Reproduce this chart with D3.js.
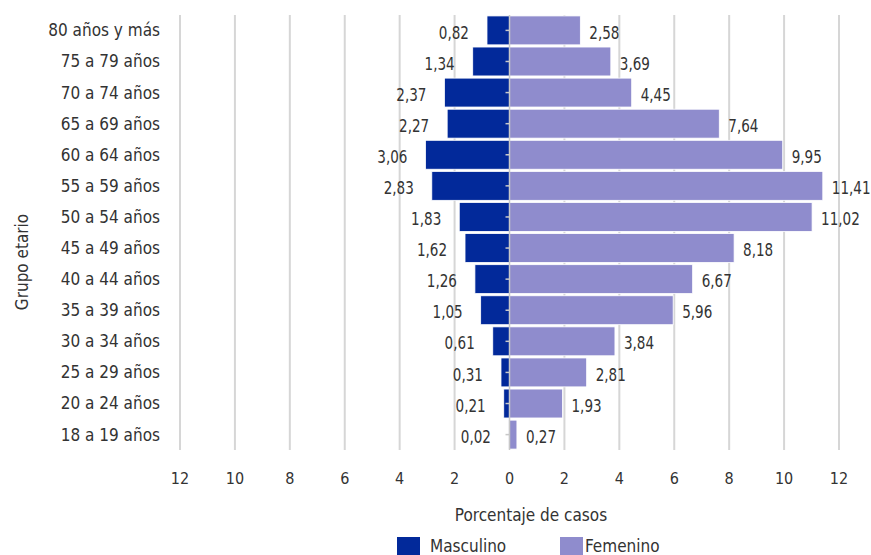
<!DOCTYPE html>
<html>
<head>
<meta charset="utf-8">
<script src="https://cdn.jsdelivr.net/npm/d3@7"></script>
<style>
  html, body { margin: 0; padding: 0; background: #fff; }
  svg { display: block; font-family: "Liberation Sans Narrow", "DejaVu Sans Condensed", "Roboto", sans-serif; }
</style>
</head>
<body>
<svg id="chart" width="871" height="555"></svg>
<script>
// Age groups, top to bottom
const groups = [
  "80 años y más", "75 a 79 años", "70 a 74 años", "65 a 69 años",
  "60 a 64 años", "55 a 59 años", "50 a 54 años", "45 a 49 años",
  "40 a 44 años", "35 a 39 años", "30 a 34 años", "25 a 29 años",
  "20 a 24 años", "18 a 19 años"
];
// Share of cases (%) by sex
const masculino = [0.82, 1.34, 2.37, 2.27, 3.06, 2.83, 1.83, 1.62, 1.26, 1.05, 0.61, 0.31, 0.21, 0.02];
const femenino  = [2.58, 3.69, 4.45, 7.64, 9.95, 11.41, 11.02, 8.18, 6.67, 5.96, 3.84, 2.81, 1.93, 0.27];
// Axis ticks (males to the left, females to the right)
const ticks = [-12, -10, -8, -6, -4, -2, 0, 2, 4, 6, 8, 10, 12];

const colMasc = "#02299a";
const colFem = "#8f8ccd";
const fmt = v => d3.format(".2f")(v).replace(".", ",");

const svg = d3.select("#chart");
const x = d3.scaleLinear().domain([-12, 12]).range([180, 839]);
const y = d3.scaleBand().domain(groups).range([15, 450]).paddingInner(0.07).paddingOuter(0.03);
const mid = g => y(g) + y.bandwidth() / 2;

// Vertical gridlines
svg.append("g").selectAll("line").data(ticks.filter(t => t !== 0)).join("line")
  .attr("x1", d => x(d)).attr("x2", d => x(d))
  .attr("y1", 15).attr("y2", 450)
  .attr("stroke", "#d6d6d6").attr("stroke-width", 2);

// Bars
const rows = groups.map((g, i) => ({ g, m: masculino[i], f: femenino[i] }));
svg.append("g").selectAll("rect").data(rows).join("rect")
  .attr("x", d => x(-d.m)).attr("width", d => x(0) - x(-d.m))
  .attr("y", d => y(d.g)).attr("height", y.bandwidth())
  .attr("fill", colMasc).attr("stroke", "#fff").attr("stroke-width", 0.8);
svg.append("g").selectAll("rect").data(rows).join("rect")
  .attr("x", x(0)).attr("width", d => x(d.f) - x(0))
  .attr("y", d => y(d.g)).attr("height", y.bandwidth())
  .attr("fill", colFem).attr("stroke", "#fff").attr("stroke-width", 0.8);

// Zero axis with small category ticks
const axis = svg.append("g").attr("stroke", "#c8c8c8").attr("stroke-width", 1.5);
axis.append("line").attr("x1", x(0)).attr("x2", x(0)).attr("y1", 15).attr("y2", 450);
axis.selectAll(".tk").data(groups).join("line")
  .attr("x1", x(0) - 4).attr("x2", x(0))
  .attr("y1", d => mid(d)).attr("y2", d => mid(d));

// Value labels (narrowed horizontally)
svg.append("g").selectAll("text").data(rows).join("text")
  .attr("transform", d => `translate(${x(-d.m) - 18},${mid(d.g) + 2}) scale(0.86,1)`)
  .attr("dy", "0.35em").attr("text-anchor", "end")
  .attr("font-size", 17.5).attr("fill", "#333").text(d => fmt(d.m));
svg.append("g").selectAll("text").data(rows).join("text")
  .attr("transform", d => `translate(${x(d.f) + 9},${mid(d.g) + 2}) scale(0.86,1)`)
  .attr("dy", "0.35em").attr("text-anchor", "start")
  .attr("font-size", 17.5).attr("fill", "#333").text(d => fmt(d.f));

// Category labels
svg.append("g").selectAll("text").data(groups).join("text")
  .attr("x", 160).attr("y", d => mid(d))
  .attr("dy", "0.35em").attr("text-anchor", "end")
  .attr("font-size", 17).attr("fill", "#333").text(d => d);

// Tick labels
svg.append("g").selectAll("text").data(ticks).join("text")
  .attr("x", d => x(d)).attr("y", 478).attr("dy", "0.35em")
  .attr("text-anchor", "middle").attr("font-size", 16).attr("fill", "#333")
  .text(d => Math.abs(d));

// Axis titles
svg.append("text").attr("x", 531).attr("y", 515).attr("dy", "0.35em")
  .attr("text-anchor", "middle").attr("font-size", 17).attr("fill", "#333")
  .text("Porcentaje de casos");
svg.append("text").attr("transform", "translate(22,262) rotate(-90)").attr("dy", "0.35em")
  .attr("text-anchor", "middle").attr("font-size", 17).attr("fill", "#333")
  .text("Grupo etario");

// Legend
const legend = [{ name: "Masculino", color: colMasc, x: 397, tx: 430 },
                { name: "Femenino", color: colFem, x: 560, tx: 585 }];
const lg = svg.append("g").selectAll("g").data(legend).join("g");
lg.append("rect").attr("x", d => d.x).attr("y", 537).attr("width", 23).attr("height", 20).attr("fill", d => d.color);
lg.append("text").attr("x", d => d.tx).attr("y", 546).attr("dy", "0.35em")
  .attr("font-size", 17).attr("fill", "#333").text(d => d.name);
</script>
</body>
</html>
